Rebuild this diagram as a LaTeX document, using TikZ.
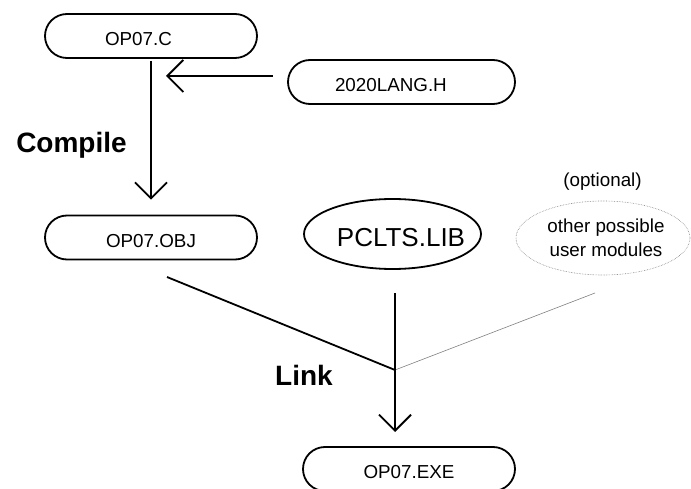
\documentclass[tikz,border=0pt]{standalone}
\usepackage{fontspec}
\setmainfont{Liberation Sans}
\usetikzlibrary{arrows.meta,shapes.geometric}
\begin{document}
\begin{tikzpicture}[x=1pt,y=-1pt,
  file/.style={draw,line width=1.8pt,rounded corners=22pt,minimum width=212pt,
    minimum height=44pt,inner sep=0pt,text height=19.5pt,text depth=0pt,
    font=\fontsize{18.8}{22}\selectfont},
  stage/.style={font=\bfseries\fontsize{28}{32}\selectfont,inner sep=0pt,anchor=base},
  flow/.style={line width=1.8pt},
  arr/.style={flow,-{Straight Barb[length=16pt,width=32pt,line width=1.8pt]}},
  faint/.style={draw=gray,line width=0.6pt}]
\useasboundingbox (0,0) rectangle (691,489);

% source, header, object and executable files
\node[file,text width=92pt,align=left] (src) at (151,36) {OP07.C};
\node[file,minimum width=227pt,text width=133pt,align=left] (hdr) at (401.5,82) {2020LANG.H};
\node[file] (obj) at (151,237.5) {OP07.OBJ};
\node[file] (exe) at (409,469) {OP07.EXE};

% run-time library
\node[draw,ellipse,line width=1.8pt,minimum width=177pt,minimum height=70pt,
  inner sep=0pt] (lib) at (392.5,234) {};
\node[font=\fontsize{26}{30}\selectfont,inner sep=0pt,anchor=base] (libname) at (401,247) {PCLTS.LIB};

% optional extra modules
\node[draw=gray,densely dotted,line width=0.6pt,ellipse,minimum width=174pt,
  minimum height=74pt,inner sep=0pt,align=center,
  font=\fontsize{18.8}{23.5}\selectfont] (usr) at (603,238) {\hspace*{6pt}other possible\\\hspace*{6pt}user modules};
\node[font=\fontsize{18.8}{22}\selectfont,inner sep=0pt,anchor=base] (opt) at (602.5,187) {(optional)};

% stage labels
\node[stage] (compile) at (71.5,153) {Compile};
\node[stage] (link) at (304,385) {Link};

% connector end points
\coordinate (hdrout) at (273,76);
\coordinate (srcin) at (166,76);
\coordinate (objout) at (167,277);
\coordinate (libout) at (395,293);
\coordinate (usrout) at (595,293);
\coordinate (join) at (395,370);
\coordinate (exein) at (395,432);

% compile step
\draw[arr] ([yshift=-2pt]src.south) -- ([yshift=15pt]obj.north);
\draw[arr] (hdrout) -- (srcin);

% link step
\draw[flow] (objout) -- (join);
\draw[faint] (usrout) -- (join);
\draw[arr] (libout) -- (exein);
\end{tikzpicture}
\end{document}
